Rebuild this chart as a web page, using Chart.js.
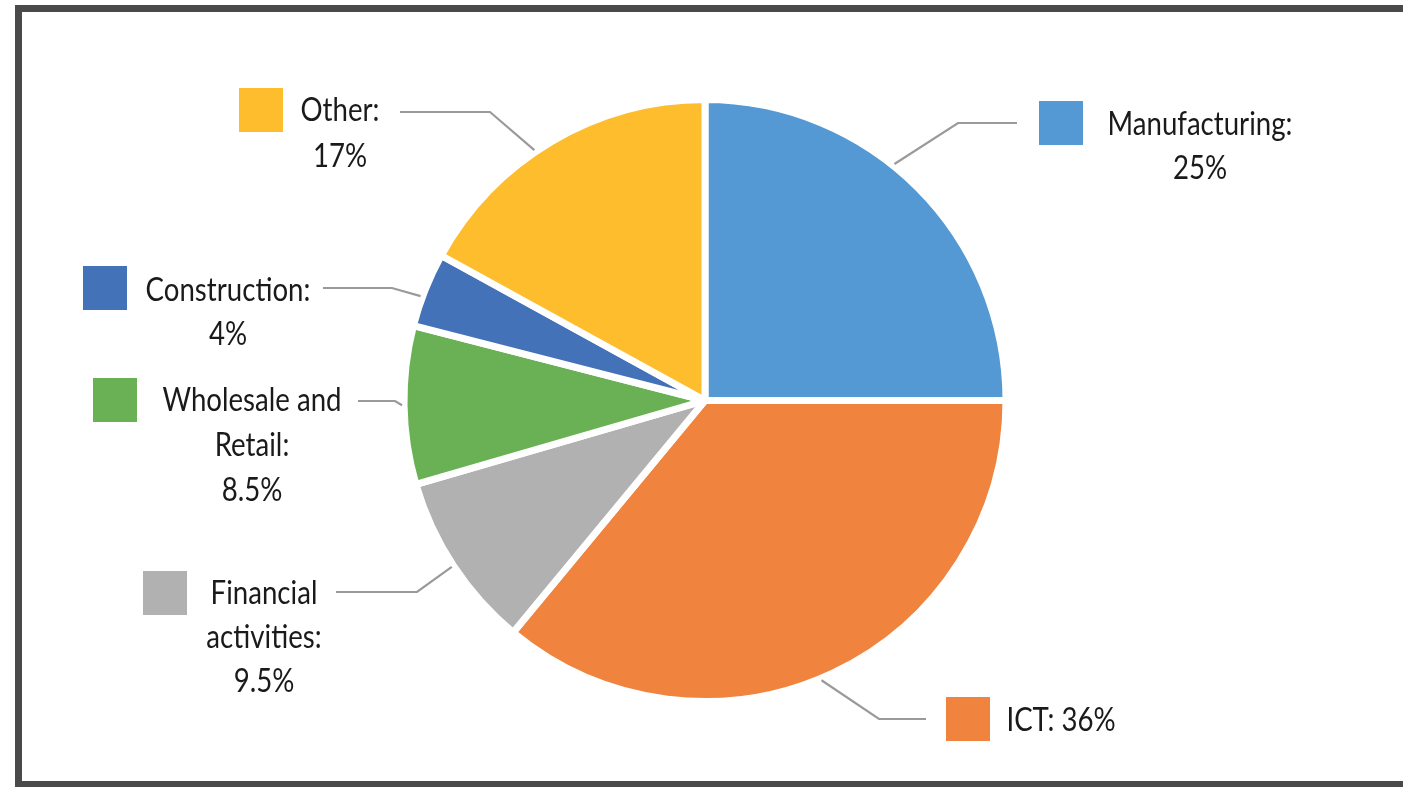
<!DOCTYPE html>
<html>
<head>
<meta charset="utf-8">
<script src="https://cdn.jsdelivr.net/npm/chart.js@4"></script>
<style>
  html, body { margin: 0; padding: 0; background: #fff; overflow: hidden; }
  #frame { position: absolute; left: 15px; top: 5px; width: 1500px; height: 782px; box-sizing: border-box;
           border: 7px solid #4a4a4a; border-right: none; border-bottom-width: 6px; }
  #c { position: absolute; left: 0; top: 0; }
</style>
</head>
<body>
<div id="frame"></div>
<canvas id="c" width="1403" height="787"></canvas>
<script>
// ---- data ----
const categories = ['Manufacturing', 'ICT', 'Financial activities', 'Wholesale and Retail', 'Construction', 'Other'];
const shares = [25, 36, 9.5, 8.5, 4, 17];
const valueLabels = ['25%', '36%', '9.5%', '8.5%', '4%', '17%'];
const colors = ['#5499D3', '#F0833D', '#B1B1B2', '#6AB155', '#4472B8', '#FDBD2C'];

// ---- label layout (positions/styles only) ----
const FONT = '33px Lato, "DejaVu Sans", sans-serif';
const REF_WORD = 'Manufacturing:';
const REF_WIDTH = 185; // target drawn width of the reference word
const labelLayout = [
  { breakAfter: [], inline: false, sq: [1039, 101], cx: 1200, cy: 124, lh: 44, elbow: [958, 123], end: [1017, 123], frac: 0.43 },
  { breakAfter: [], inline: true,  sq: [946, 697],  cx: 1061, cy: 720, lh: 44, elbow: [879, 719], end: [926, 719], frac: 0.52 },
  { breakAfter: [0], inline: false, sq: [143, 571], cx: 264, cy: 593, lh: 44, elbow: [417, 592], end: [336, 592], frac: 0.5 },
  { breakAfter: [1], inline: false, sq: [93, 378],  cx: 252, cy: 400, lh: 45, elbow: [395, 401], end: [358, 401], frac: 0.5 },
  { breakAfter: [], inline: false, sq: [83, 266],  cx: 228, cy: 290, lh: 44, elbow: [392, 288], end: [323, 288], frac: 0.4 },
  { breakAfter: [], inline: false, sq: [239, 88],  cx: 340, cy: 110, lh: 46, elbow: [490, 112], end: [400, 112], frac: 0.44 }
];

function buildLines(i) {
  const L = labelLayout[i];
  if (L.inline) return [categories[i] + ': ' + valueLabels[i]];
  const words = categories[i].split(' ');
  const lines = [];
  let cur = [];
  words.forEach((w, k) => {
    cur.push(w);
    if (L.breakAfter.includes(k)) { lines.push(cur.join(' ')); cur = []; }
  });
  lines.push(cur.join(' ') + ':');
  lines.push(valueLabels[i]);
  return lines;
}

const calloutPlugin = {
  id: 'callouts',
  afterDatasetsDraw(chart) {
    const ctx = chart.ctx;
    const meta = chart.getDatasetMeta(0);
    ctx.save();
    ctx.font = FONT;
    const sx0 = Math.min(1, REF_WIDTH / ctx.measureText(REF_WORD).width);
    meta.data.forEach((arc, i) => {
      const L = labelLayout[i];
      const p = arc.getProps(['x', 'y', 'startAngle', 'endAngle', 'outerRadius'], true);
      const a = p.startAngle + (p.endAngle - p.startAngle) * L.frac;
      const r = p.outerRadius + 2;
      const sx = p.x + Math.cos(a) * r, sy = p.y + Math.sin(a) * r;
      // leader line
      ctx.strokeStyle = '#9a9a9a';
      ctx.lineWidth = 2.2;
      ctx.beginPath();
      ctx.moveTo(sx, sy);
      ctx.lineTo(L.elbow[0], L.elbow[1]);
      ctx.lineTo(L.end[0], L.end[1]);
      ctx.stroke();
      // square
      ctx.fillStyle = colors[i];
      ctx.fillRect(L.sq[0], L.sq[1], 44, 44);
      // text
      ctx.fillStyle = '#1a1a1a';
      ctx.font = FONT;
      ctx.textAlign = 'center';
      ctx.textBaseline = 'middle';
      buildLines(i).forEach((t, k) => {
        ctx.save();
        ctx.translate(L.cx, L.cy + k * L.lh);
        ctx.scale(sx0, 1);
        ctx.fillText(t, 0, 0);
        ctx.restore();
      });
    });
    ctx.restore();
  }
};

new Chart(document.getElementById('c'), {
  type: 'pie',
  data: {
    labels: categories,
    datasets: [{
      data: shares,
      backgroundColor: colors,
      borderColor: '#ffffff',
      borderWidth: 7,
      hoverOffset: 0
    }]
  },
  options: {
    responsive: false,
    animation: false,
    radius: 301,
    layout: { padding: { left: 7, right: 0, top: 14, bottom: 0 } },
    plugins: { legend: { display: false }, tooltip: { enabled: false } },
    events: []
  },
  plugins: [calloutPlugin]
});
</script>
</body>
</html>
